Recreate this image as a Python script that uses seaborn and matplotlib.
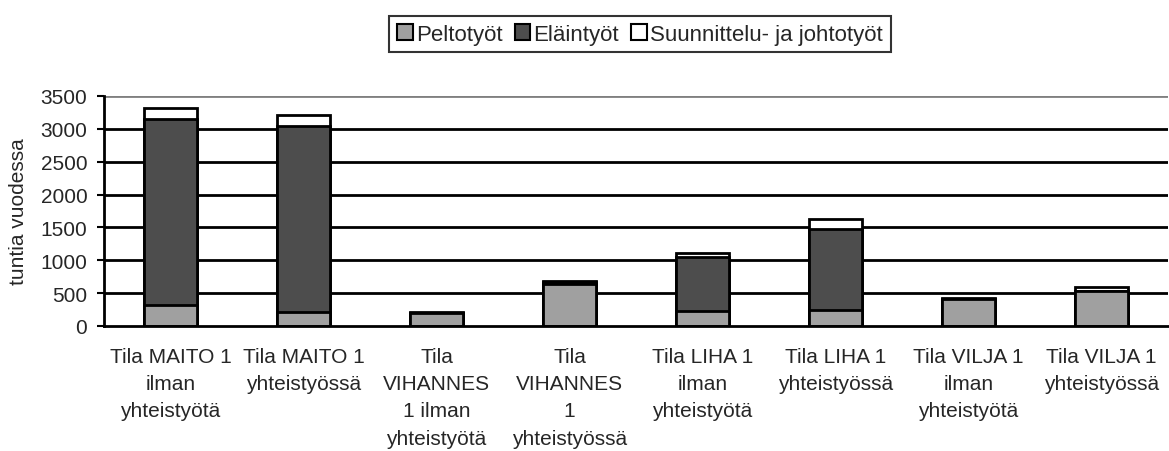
import matplotlib
matplotlib.use("Agg")
import matplotlib.pyplot as plt
import seaborn as sns
import pandas as pd
import numpy as np
from matplotlib.patches import Patch

categories = [
    "Tila MAITO 1\nilman\nyhteistyötä",
    "Tila MAITO 1\nyhteistyössä",
    "Tila\nVIHANNES\n1 ilman\nyhteistyötä",
    "Tila\nVIHANNES\n1\nyhteistyössä",
    "Tila LIHA 1\nilman\nyhteistyötä",
    "Tila LIHA 1\nyhteistyössä",
    "Tila VILJA 1\nilman\nyhteistyötä",
    "Tila VILJA 1\nyhteistyössä",
]
peltotyot = [320, 220, 195, 645, 230, 250, 410, 540]
elaintyot = [2830, 2830, 8, 20, 825, 1230, 0, 0]
suunnittelu = [160, 160, 8, 25, 60, 150, 18, 60]
series_names = ["Peltotyöt", "Eläintyöt", "Suunnittelu- ja johtotyöt"]
colors = ["#A0A0A0", "#4D4D4D", "#FFFFFF"]
yticks = [0, 500, 1000, 1500, 2000, 2500, 3000, 3500]

sns.set_theme(style="white")
plt.rcParams["font.family"] = ["Liberation Sans", "DejaVu Sans"]
FS = 15

df = pd.DataFrame({"cat": categories, "p": peltotyot, "e": elaintyot, "s": suunnittelu})
df["c1"] = df["p"]
df["c2"] = df["p"] + df["e"]
df["c3"] = df["c2"] + df["s"]

fig = plt.figure(figsize=(11.69, 4.52), dpi=100)
ax = fig.add_axes([104 / 1169, 1 - 327 / 452, (1168 - 104) / 1169, 230 / 452])

for col, colr in zip(["c3", "c2", "c1"], colors[::-1]):
    sns.barplot(data=df, x="cat", y=col, color=colr, saturation=1, width=0.4,
                edgecolor="black", linewidth=2.0, ax=ax, zorder=3)

ax.set_ylim(0, 3500)
ax.set_xlim(-0.5, len(categories) - 0.5)
ax.set_yticks(yticks)
ax.set_yticklabels([str(v) for v in yticks], fontsize=FS)
for v in yticks[1:-1]:
    ax.axhline(v, color="black", linewidth=2.0, zorder=1)
ax.axhline(3500, color="#808080", linewidth=2.0, zorder=1)

ax.set_xticks(np.arange(len(categories)))
ax.set_xticklabels(categories, fontsize=FS, linespacing=1.55)
ax.tick_params(axis="x", length=0, pad=15)
ax.set_xticks(np.arange(len(categories) + 1) - 0.5, minor=True)
ax.tick_params(axis="x", which="minor", length=6, width=1.5, color="black", direction="out")
ax.tick_params(axis="y", length=5, width=1.5, color="black", direction="out", pad=7, left=True)

ax.set_xlabel("")
ax.set_ylabel("tuntia vuodessa", fontsize=FS, labelpad=9)

for s in ["top", "right"]:
    ax.spines[s].set_visible(False)
ax.spines["left"].set_color("black")
ax.spines["left"].set_linewidth(2.0)
ax.spines["bottom"].set_color("black")
ax.spines["bottom"].set_linewidth(2.0)
ax.spines["left"].set_zorder(4)
ax.spines["bottom"].set_zorder(4)

handles = [Patch(facecolor=c, edgecolor="black", linewidth=1.5) for c in colors]
leg = fig.legend(handles, series_names, loc="center", bbox_to_anchor=(640 / 1169, 1 - 35 / 452),
                 ncol=3, frameon=True, fontsize=16, handlelength=0.7, handleheight=0.7,
                 handletextpad=0.15, columnspacing=0.55, borderpad=0.35, fancybox=False)
leg.get_frame().set_edgecolor("black")
leg.get_frame().set_linewidth(1.5)

fig.savefig("out.png", dpi=100)
